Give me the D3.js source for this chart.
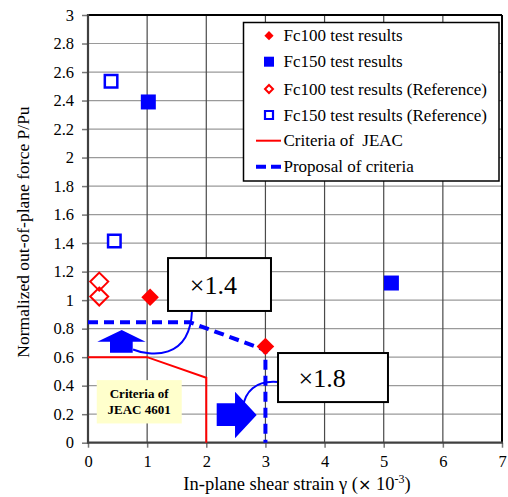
<!DOCTYPE html>
<html><head><meta charset="utf-8">
<script src="https://cdn.jsdelivr.net/npm/d3@7"></script>
<style>html,body{margin:0;padding:0;background:#fff;}svg{display:block;}</style>
</head><body>
<svg id="c" width="508" height="497"></svg>
<script>
// ---- data ----
const xTicks = [0,1,2,3,4,5,6,7];
const yTicks = [0,0.2,0.4,0.6,0.8,1,1.2,1.4,1.6,1.8,2,2.2,2.4,2.6,2.8,3];
const yTickLabels = ["0","0.2","0.4","0.6","0.8","1","1.2","1.4","1.6","1.8","2","2.2","2.4","2.6","2.8","3"];
const fc100 = [[1.05,1.02],[3.0,0.675]];
const fc150 = [[1.02,2.39],[5.13,1.12]];
const fc100Ref = [[0.19,1.13],[0.19,1.025]];
const fc150Ref = [[0.39,2.535],[0.445,1.415]];
const jeac = [[0,0.6],[1,0.6],[2,0.455],[2,0]];
const proposal = [[0,0.845],[1.72,0.845],[3,0.65],[3,0]];
const legendLabels = ["Fc100 test results","Fc150 test results","Fc100 test results (Reference)","Fc150 test results (Reference)","Criteria of  JEAC","Proposal of criteria"];

const svg = d3.select("#c");
const x = d3.scaleLinear([0,7],[88,502]);
const y = d3.scaleLinear([0,3],[442.7,15]);
const serif = "'Liberation Serif','Times New Roman',serif";
const RED="#FF0000", BLUE="#0000FF";

// gridlines
svg.append("g").selectAll("line").data(yTicks.slice(1)).join("line")
  .attr("x1",x(0)).attr("x2",x(7)).attr("y1",d=>y(d)).attr("y2",d=>y(d))
  .attr("stroke","#9a9a9a").attr("stroke-width",1.2);
svg.append("g").selectAll("line").data(xTicks.slice(1)).join("line")
  .attr("x1",d=>x(d)).attr("x2",d=>x(d)).attr("y1",y(0)).attr("y2",y(3))
  .attr("stroke","#4a4a4a").attr("stroke-width",1.2);

// axes via d3
const yAxis = d3.axisLeft(y).tickValues(yTicks).tickFormat((d,i)=>yTickLabels[i]).tickSize(6).tickPadding(8);
const gy = svg.append("g").attr("transform",`translate(${x(0)},0)`).call(yAxis);
const xAxis = d3.axisBottom(x).tickValues(xTicks).tickFormat(d3.format("d")).tickSize(5).tickPadding(8);
const gx = svg.append("g").attr("transform",`translate(0,${y(0)})`).call(xAxis);
[gx,gy].forEach(g=>{
  g.select(".domain").remove();
  g.selectAll(".tick line").attr("stroke","#777").attr("stroke-width",1.5);
  g.selectAll(".tick text").attr("font-family",serif).attr("font-size",16.5).attr("fill","#000");
});

// frame
svg.append("line").attr("x1",x(0)).attr("x2",x(7)).attr("y1",y(3)).attr("y2",y(3)).attr("stroke","#000").attr("stroke-width",2);
svg.append("line").attr("x1",x(7)).attr("x2",x(7)).attr("y1",y(3)).attr("y2",y(0)).attr("stroke","#000").attr("stroke-width",2);
svg.append("line").attr("x1",x(0)).attr("x2",x(0)).attr("y1",y(3)-1).attr("y2",y(0)+1).attr("stroke","#404040").attr("stroke-width",2.2);
svg.append("line").attr("x1",x(0)).attr("x2",x(7)+1).attr("y1",y(0)).attr("y2",y(0)).attr("stroke","#404040").attr("stroke-width",2.2);

// criteria lines
const line = d3.line().x(d=>x(d[0])).y(d=>y(d[1]));
svg.append("path").attr("d",line(jeac)).attr("fill","none").attr("stroke",RED).attr("stroke-width",2);
svg.append("path").attr("d",line(proposal)).attr("fill","none").attr("stroke",BLUE).attr("stroke-width",4).attr("stroke-dasharray","10,6");

// annotation: arrows and connectors (positions in data units)
const up = [[0.570,0.79],[0.974,0.708],[0.756,0.708],[0.756,0.631],[0.372,0.631],[0.372,0.708],[0.157,0.708]];
svg.append("path").attr("d",line(up)+"Z").attr("fill",BLUE);
const right = [[2.176,0.276],[2.486,0.276],[2.486,0.358],[2.852,0.194],[2.486,0.031],[2.486,0.117],[2.176,0.117]];
svg.append("path").attr("d",line(right)+"Z").attr("fill",BLUE);
const c1 = d3.path(); c1.moveTo(x(1.758),y(0.924)); c1.bezierCurveTo(x(1.724),y(0.577),x(1.048),y(0.605),x(0.761),y(0.654));
svg.append("path").attr("d",c1.toString()).attr("fill","none").attr("stroke",BLUE).attr("stroke-width",2);
const c2 = d3.path(); c2.moveTo(x(3.213),y(0.426)); c2.bezierCurveTo(x(2.824),y(0.44),x(2.655),y(0.355),x(2.62),y(0.25));
svg.append("path").attr("d",c2.toString()).attr("fill","none").attr("stroke",BLUE).attr("stroke-width",2);

// markers
const sq = d3.symbol(d3.symbolSquare);
const dia = (s)=>`M0,${-s}L${s},0L0,${s}L${-s},0Z`;
svg.append("g").selectAll("path").data(fc150).join("path")
  .attr("transform",d=>`translate(${x(d[0])},${y(d[1])})`).attr("d",sq.size(15*15)()).attr("fill",BLUE);
svg.append("g").selectAll("path").data(fc150Ref).join("path")
  .attr("transform",d=>`translate(${x(d[0])},${y(d[1])})`).attr("d",sq.size(12.5*12.5)()).attr("fill","#fff").attr("stroke",BLUE).attr("stroke-width",2.5);
svg.append("g").selectAll("path").data(fc100).join("path")
  .attr("transform",d=>`translate(${x(d[0])},${y(d[1])})`).attr("d",dia(8.8)).attr("fill",RED);
svg.append("g").selectAll("path").data(fc100Ref).join("path")
  .attr("transform",d=>`translate(${x(d[0])},${y(d[1])})`).attr("d",dia(9)).attr("fill","none").attr("stroke",RED).attr("stroke-width",2);

// callout boxes
function callout(x0,x1,yt,yb,label,tx){
  svg.append("rect").attr("x",x(x0)).attr("y",y(yt)).attr("width",x(x1)-x(x0)).attr("height",y(yb)-y(yt))
    .attr("fill","#fff").attr("stroke","#000").attr("stroke-width",2);
  svg.append("text").attr("x",x(tx)).attr("y",(y(yt)+y(yb))/2+9).attr("text-anchor","middle")
    .attr("font-family",serif).attr("font-size",26).text(label);
}
callout(1.353,3.094,1.295,0.924,"×1.4",2.12);
callout(3.213,5.072,0.629,0.285,"×1.8",3.96);

// JEAC 4601 label box
svg.append("rect").attr("x",x(0.148)).attr("y",y(0.439)).attr("width",x(1.585)-x(0.148)).attr("height",y(0.135)-y(0.439))
  .attr("fill","#FFFFCC");
const jt = svg.append("text").attr("font-family",serif).attr("font-size",13).attr("font-weight","bold").attr("text-anchor","middle");
jt.append("tspan").attr("x",x(0.865)).attr("y",398).text("Criteria of");
jt.append("tspan").attr("x",x(0.865)).attr("y",414).text("JEAC 4601");

// legend
const lg = svg.append("g");
lg.append("rect").attr("x",243.5).attr("y",22.5).attr("width",255.5).attr("height",158.5).attr("fill","#fff").attr("stroke","#000").attr("stroke-width",1.5);
const rows = [35.7,61.7,89,115,140.7,166.7];
legendLabels.forEach((t,i)=>{
  lg.append("text").attr("x",283.5).attr("y",rows[i]+5.5).attr("font-family",serif).attr("font-size",17)
    .style("white-space","pre").text(t);
});
lg.append("path").attr("transform",`translate(269,${rows[0]})`).attr("d",dia(4.6)).attr("fill",RED);
lg.append("path").attr("transform",`translate(269,${rows[1]})`).attr("d",sq.size(10*10)()).attr("fill",BLUE);
lg.append("path").attr("transform",`translate(269,${rows[2]})`).attr("d",dia(4)).attr("fill","none").attr("stroke",RED).attr("stroke-width",2);
lg.append("path").attr("transform",`translate(269,${rows[3]})`).attr("d",sq.size(8*8)()).attr("fill","none").attr("stroke",BLUE).attr("stroke-width",2.2);
lg.append("line").attr("x1",256).attr("x2",281).attr("y1",rows[4]).attr("y2",rows[4]).attr("stroke",RED).attr("stroke-width",2);
lg.append("line").attr("x1",256).attr("x2",281).attr("y1",rows[5]).attr("y2",rows[5]).attr("stroke",BLUE).attr("stroke-width",4).attr("stroke-dasharray","10,5");

// axis titles
const xt = svg.append("text").attr("x",297).attr("y",490).attr("text-anchor","middle").attr("font-family",serif).attr("font-size",18.5);
xt.append("tspan").text("In-plane shear strain γ (");
xt.append("tspan").attr("font-family","'DejaVu Sans',sans-serif").attr("font-size",16).text("×");
xt.append("tspan").text(" 10");
xt.append("tspan").attr("font-size",12).attr("dy",-7).text("-3");
xt.append("tspan").attr("dy",7).text(")");
svg.append("text").attr("transform","translate(29,232) rotate(-90)").attr("text-anchor","middle")
  .attr("font-family",serif).attr("font-size",17.5).text("Normalized out-of-plane force P/Pu");
</script>
</body></html>
